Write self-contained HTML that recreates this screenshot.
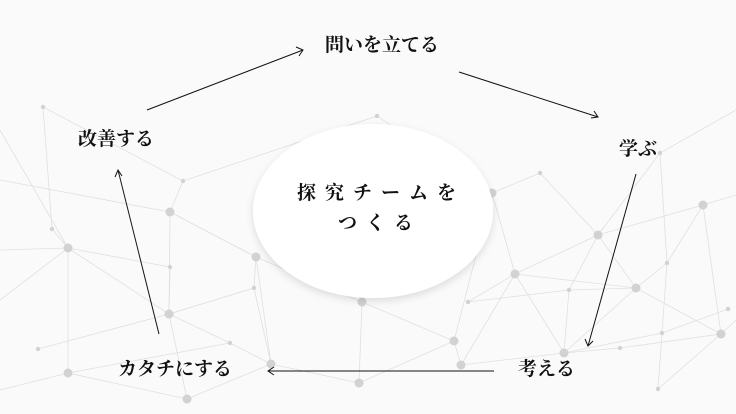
<!DOCTYPE html>
<html><head><meta charset="utf-8"><style>
body{margin:0;width:736px;height:414px;overflow:hidden;background:#fafafa;position:relative;font-family:"Liberation Serif","Noto Serif CJK SC",serif;}
.t{position:absolute;font-size:19px;font-weight:bold;color:#111;white-space:nowrap;line-height:20px;}
svg{position:absolute;left:0;top:0}
</style></head><body>
<svg width="736" height="414">
<g stroke="#e0e0e0" stroke-width="0.8" fill="none">
<polyline points="43,107 52,229 68,248 68,373 187,399 271,364 359,383 362,302 256,257 170,212 183,181 43,107"/>
<polyline points="0,180 170,212 256,257 271,364"/>
<polyline points="68,248 170,267 169,314 230,343 271,364"/>
<polyline points="0,300 68,248 169,314 187,399"/>
<polyline points="38,349 169,314 254,288 256,257"/>
<polyline points="0,390 68,373 230,343"/>
<polyline points="170,212 169,314 254,288 271,364"/>
<polyline points="183,181 377,116 492,193 540,173"/>
<polyline points="492,193 515,274 564,353 636,288 598,235 703,205 736,195"/>
<polyline points="362,302 454,341 461,365 564,353 620,348 721,334 736,320"/>
<polyline points="515,274 598,235 660,153 736,110"/>
<polyline points="515,274 636,288 721,334 658,389"/>
<polyline points="468,302 569,290 636,288 667,263 703,205"/>
<polyline points="461,365 515,274 468,302"/>
<polyline points="359,383 454,341 492,193"/>
<polyline points="564,353 662,333 728,309"/>
<polyline points="703,205 721,334"/>
<polyline points="0,250 68,248 0,130"/>
<polyline points="660,153 667,263 662,333 658,389"/>
<polyline points="540,173 598,235 569,290 564,353"/>
</g>
<g fill="#d2d2d2">
<circle cx="68" cy="248" r="4.5"/><circle cx="170" cy="212" r="4.5"/><circle cx="256" cy="257" r="4.5"/>
<circle cx="169" cy="314" r="4.5"/><circle cx="68" cy="373" r="4.5"/><circle cx="187" cy="399" r="4.5"/>
<circle cx="271" cy="364" r="4.5"/><circle cx="359" cy="383" r="4.5"/><circle cx="362" cy="302" r="4.5"/>
<circle cx="454" cy="341" r="4.5"/><circle cx="461" cy="365" r="4.5"/><circle cx="515" cy="274" r="4.5"/>
<circle cx="598" cy="235" r="4.5"/><circle cx="636" cy="288" r="4.5"/><circle cx="703" cy="205" r="4.5"/>
<circle cx="721" cy="334" r="4.5"/><circle cx="564" cy="353" r="4.5"/><circle cx="492" cy="193" r="4.5"/>
<circle cx="43" cy="107" r="2.2"/><circle cx="377" cy="116" r="2.2"/><circle cx="183" cy="181" r="2.2"/>
<circle cx="52" cy="229" r="2.2"/><circle cx="170" cy="267" r="2.2"/><circle cx="254" cy="288" r="2.2"/>
<circle cx="230" cy="343" r="2.2"/><circle cx="38" cy="349" r="2.2"/><circle cx="540" cy="173" r="2.2"/>
<circle cx="667" cy="263" r="2.2"/><circle cx="569" cy="290" r="2.2"/><circle cx="468" cy="302" r="2.2"/>
<circle cx="620" cy="348" r="2.2"/><circle cx="662" cy="333" r="2.2"/><circle cx="728" cy="309" r="2.2"/>
<circle cx="658" cy="389" r="2.2"/><circle cx="660" cy="153" r="2.2"/>
</g>
<defs><filter id="sh" x="-20%" y="-20%" width="140%" height="140%"><feDropShadow dx="0" dy="3" stdDeviation="4" flood-color="#000" flood-opacity="0.12"/></filter></defs>
<ellipse cx="373" cy="211" rx="120" ry="87" fill="#fff" filter="url(#sh)"/>
<g stroke="#111" stroke-width="1" fill="none">
<line x1="147" y1="110" x2="303" y2="50"/><polyline points="296,47 303,50 299,56"/>
<line x1="459" y1="72" x2="598" y2="117"/><polyline points="591,118 598,117 594,111"/>
<line x1="636" y1="174" x2="588" y2="346"/><polyline points="585,339 588,346 593,341"/>
<line x1="494" y1="371" x2="268" y2="371"/><polyline points="274,367 268,371 274,375"/>
<line x1="159" y1="334" x2="118" y2="170"/><polyline points="115,177 118,170 122,176"/>
</g>
</svg>
<div class="t" style="left:325px;top:36px">問いを立てる</div>
<div class="t" style="left:78px;top:130px">改善する</div>
<div class="t" style="left:619px;top:140px">学ぶ</div>
<div class="t" style="left:518px;top:360px">考える</div>
<div class="t" style="left:118px;top:360px">カタチにする</div>
<div class="t" style="left:297px;top:184px;letter-spacing:9px">探究チームを</div>
<div class="t" style="left:338px;top:214px;letter-spacing:9px">つくる</div>
</body></html>
